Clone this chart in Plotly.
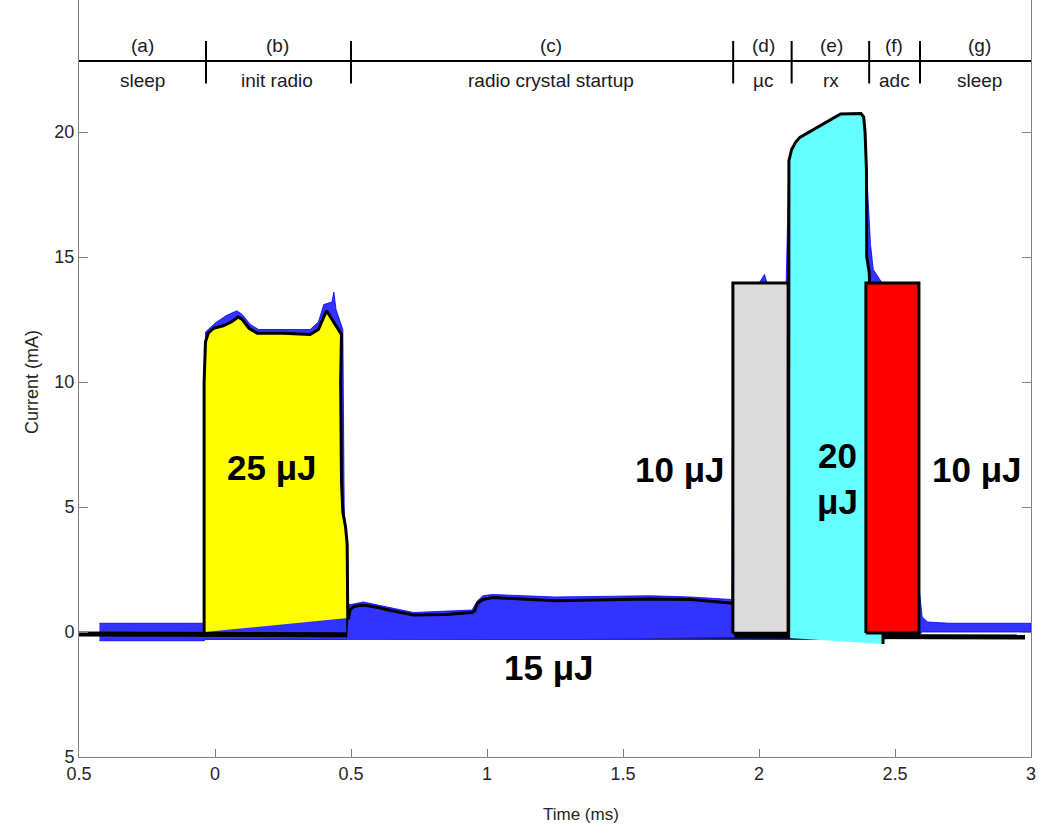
import plotly.graph_objects as go

# ---------------- data ----------------
# measured (noisy) current trace, drawn as an envelope band
sig_t  = [-0.425, -0.04, -0.035, 0.0, 0.04, 0.08, 0.10, 0.13, 0.16, 0.25, 0.35, 0.38, 0.40, 0.43, 0.437,
          0.445, 0.47, 0.475, 0.49, 0.50, 0.545, 0.73, 0.945, 0.965, 0.985, 1.02, 1.25, 1.60, 1.75, 1.90,
          1.905, 2.00, 2.02, 2.03, 2.10, 2.11, 2.15, 2.29, 2.38, 2.39, 2.40, 2.41, 2.42, 2.45, 2.55, 2.59,
          2.60, 2.62, 2.70, 2.85, 3.0]
sig_hi = [0.35, 0.35, 12.0, 12.35, 12.65, 12.85, 12.7, 12.3, 12.1, 12.1, 12.1, 12.4, 13.1, 13.2, 13.6,
          12.9, 12.1, 5.0, 1.1, 1.1, 1.2, 0.78, 0.88, 1.25, 1.45, 1.5, 1.4, 1.45, 1.4, 1.3,
          13.95, 13.95, 14.3, 13.95, 13.95, 18.9, 19.8, 20.7, 20.7, 20.3, 17.5, 15.5, 14.5, 14.0, 2.0, 1.6,
          0.6, 0.4, 0.35, 0.35, 0.35]
sig_lo = [-0.35, -0.35, -0.3, -0.3, -0.3, -0.3, -0.3, -0.3, -0.3, -0.3, -0.3, -0.3, -0.3, -0.3, -0.3,
          -0.3, -0.3, -0.3, -0.3, -0.3, -0.3, -0.3, -0.3, -0.3, -0.3, -0.3, -0.3, -0.3, -0.3, -0.3,
          -0.3, -0.3, -0.3, -0.3, -0.3, -0.3, -0.3, -0.3, -0.3, -0.3, -0.3, -0.3, -0.3, -0.3, -0.1, -0.1,
          0.0, 0.0, 0.0, 0.0, 0.0]

# baseline (black)
base_t = [-0.5, 2.978]
base_i = [-0.08, -0.2]

# (b) init radio region outline (last point is where the outline meets the baseline)
init_t = [-0.04, -0.04, -0.035, -0.025, -0.005, 0.03, 0.06, 0.085, 0.10, 0.125, 0.155, 0.25, 0.35, 0.38,
          0.41, 0.44, 0.465, 0.462, 0.465, 0.47, 0.48, 0.486, 0.487, 0.489, 0.488, 0.488]
init_i = [0.0, 10.0, 11.6, 11.95, 12.15, 12.25, 12.4, 12.6, 12.5, 12.15, 11.95, 11.95, 11.9, 12.1,
          12.85, 12.3, 11.9, 10.0, 6.0, 4.8, 4.2, 3.5, 2.5, 2.2, 0.56, -0.25]

# (c) radio crystal startup outline
xtal_t = [0.49, 0.497, 0.51, 0.545, 0.60, 0.65, 0.73, 0.85, 0.945, 0.955, 0.965, 0.985, 1.02, 1.10,
          1.25, 1.40, 1.60, 1.75, 1.85, 1.905]
xtal_i = [0.5, 0.9, 1.02, 1.08, 0.98, 0.85, 0.68, 0.70, 0.78, 0.85, 1.15, 1.30, 1.38, 1.34,
          1.25, 1.28, 1.32, 1.30, 1.22, 1.15]
xtal_base_t = [1.91, 0.485]
xtal_base_i = [-0.22, -0.32]

# (e) rx outline
rx_t = [2.109, 2.109, 2.11, 2.12, 2.135, 2.15, 2.20, 2.29, 2.30, 2.375, 2.385, 2.39, 2.395, 2.396,
        2.40, 2.405, 2.456, 2.456]
rx_i = [-0.24, 10.0, 18.85, 19.3, 19.6, 19.78, 20.1, 20.68, 20.72, 20.74, 20.6, 20.0, 18.5, 15.0,
        14.7, 14.4, 0.0, -0.48]

# (d) micro-controller and (f) adc boxes
box_t0 = [1.904, 2.393]
box_t1 = [2.107, 2.588]
box_i0 = [-0.05, -0.04]
box_i1 = [13.96, 13.96]
box_colors = ["#dcdcdc", "#ff0000"]

# phase bar
phase_bounds = [-0.033, 0.5, 1.905, 2.12, 2.405, 2.592]
phase_letters = ["(a)", "(b)", "(c)", "(d)", "(e)", "(f)", "(g)"]
phase_names = ["sleep", "init radio", "radio crystal startup", "\u00b5c", "rx", "adc", "sleep"]
phase_centers = [-0.265, 0.228, 1.235, 2.015, 2.265, 2.497, 2.81]
bar_level = 22.84

# energy labels
energy_text = ["25 \u03bcJ", "15 \u03bcJ", "10 \u03bcJ", "20<br>\u03bcJ", "10 \u03bcJ"]
energy_t = [0.21, 1.228, 1.71, 2.29, 2.80]
energy_i = [6.6, -1.4, 6.5, 6.15, 6.5]

x_ticks = [-0.5, 0, 0.5, 1, 1.5, 2, 2.5, 3]
x_ticktext = ["0.5", "0", "0.5", "1", "1.5", "2", "2.5", "3"]
y_ticks = [-5, 0, 5, 10, 15, 20]
y_ticktext = ["5", "0", "5", "10", "15", "20"]

FONT = "Liberation Sans, Arial, Helvetica"

# ---------------- figure ----------------
fig = go.Figure()

# noisy measured signal band
fig.add_trace(go.Scatter(x=sig_t + sig_t[::-1], y=sig_hi + sig_lo[::-1], mode="lines",
                         fill="toself", fillcolor="rgba(0,0,255,0.8)",
                         line=dict(color="rgba(0,0,255,0.8)", width=1), hoverinfo="skip"))
# baseline
fig.add_trace(go.Scatter(x=base_t, y=base_i, mode="lines", line=dict(color="black", width=5)))

# init radio (yellow)
fig.add_trace(go.Scatter(x=init_t[:-1], y=init_i[:-1], mode="none", fill="toself", fillcolor="#ffff00"))
fig.add_trace(go.Scatter(x=init_t, y=init_i, mode="lines", line=dict(color="black", width=3)))

# crystal startup (blue)
fig.add_trace(go.Scatter(x=xtal_t + xtal_base_t, y=xtal_i + xtal_base_i, mode="none",
                         fill="toself", fillcolor="#3333ff"))
fig.add_trace(go.Scatter(x=xtal_t, y=xtal_i, mode="lines", line=dict(color="black", width=3)))

# micro-controller box (gray)
fig.add_trace(go.Scatter(x=[box_t0[0], box_t0[0], box_t1[0], box_t1[0], box_t0[0]],
                         y=[box_i0[0], box_i1[0], box_i1[0], box_i0[0], box_i0[0]],
                         mode="lines", fill="toself", fillcolor=box_colors[0],
                         line=dict(color="black", width=3)))

# rx (cyan)
fig.add_trace(go.Scatter(x=rx_t, y=rx_i, mode="none", fill="toself", fillcolor="#66ffff"))
fig.add_trace(go.Scatter(x=rx_t, y=rx_i, mode="lines", line=dict(color="black", width=3)))

# adc box (red)
fig.add_trace(go.Scatter(x=[box_t0[1], box_t0[1], box_t1[1], box_t1[1], box_t0[1]],
                         y=[box_i0[1], box_i1[1], box_i1[1], box_i0[1], box_i0[1]],
                         mode="lines", fill="toself", fillcolor=box_colors[1],
                         line=dict(color="black", width=3)))

# phase bar
fig.add_trace(go.Scatter(x=[x_ticks[0], x_ticks[-1]], y=[bar_level, bar_level], mode="lines",
                         line=dict(color="black", width=2)))
tick_x, tick_y = [], []
for b in phase_bounds:
    tick_x += [b, b, None]
    tick_y += [bar_level - 0.9, bar_level + 0.8, None]
fig.add_trace(go.Scatter(x=tick_x, y=tick_y, mode="lines", line=dict(color="black", width=2)))

annotations = []
for c, lt, nm in zip(phase_centers, phase_letters, phase_names):
    annotations.append(dict(x=c, y=bar_level + 0.64, text=lt, showarrow=False, xref="x", yref="y",
                            font=dict(family=FONT, size=19, color="#1a1a1a")))
    annotations.append(dict(x=c, y=bar_level - 0.76, text=nm, showarrow=False, xref="x", yref="y",
                            font=dict(family=FONT, size=19, color="#1a1a1a")))
for txt, t, i in zip(energy_text, energy_t, energy_i):
    annotations.append(dict(x=t, y=i, text="<b>" + txt + "</b>", showarrow=False, xref="x", yref="y",
                            font=dict(family=FONT, size=35, color="black")))
annotations.append(dict(x=1.345, y=-0.0766, text="Time (ms)", showarrow=False, xref="x", yref="paper",
                        xanchor="center", yanchor="middle",
                        font=dict(family=FONT, size=17, color="#262626")))
annotations.append(dict(x=-0.0494, y=10, text="Current (mA)", showarrow=False, xref="paper", yref="y",
                        xanchor="center", yanchor="middle", textangle=-90,
                        font=dict(family=FONT, size=18, color="#262626")))

fig.update_layout(
    width=1039, height=826,
    margin=dict(l=79, r=8, t=0, b=69),
    paper_bgcolor="white", plot_bgcolor="white",
    showlegend=False,
    hovermode=False,
    annotations=annotations,
    xaxis=dict(range=[-0.5, 3.0], tickvals=x_ticks, ticktext=x_ticktext, ticks="inside", ticklen=8,
               tickcolor="#808080", showline=True, linecolor="#808080", linewidth=1, showgrid=False,
               zeroline=False, tickfont=dict(family=FONT, size=18, color="#262626")),
    yaxis=dict(range=[-5, 25.28], tickvals=y_ticks, ticktext=y_ticktext, ticks="inside", ticklen=9,
               tickcolor="#808080", showline=True, linecolor="#808080", linewidth=1, mirror="ticks",
               showgrid=False, zeroline=False,
               tickfont=dict(family=FONT, size=18, color="#262626")),
)

# remove the default 8px page margin so the 1039x826 figure fills the window exactly
fig.write_html("out.html", config={"displayModeBar": False},
               post_script="document.body.style.margin='0px'; document.body.style.overflow='hidden';")
